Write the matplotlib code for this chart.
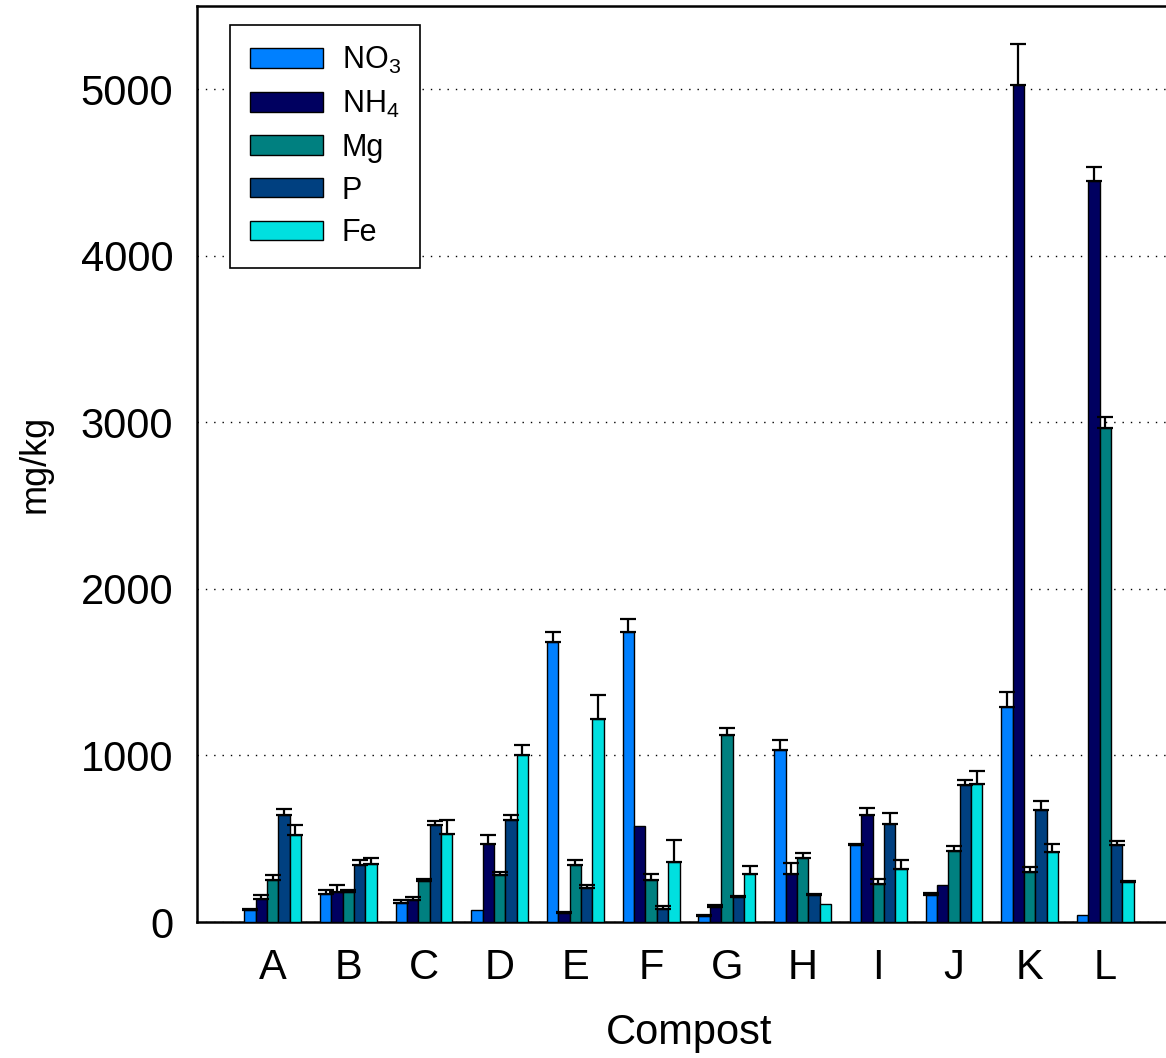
import numpy as np
import matplotlib
matplotlib.use('Agg')
import matplotlib.pyplot as plt

plt.rcParams['font.family'] = ['Liberation Sans', 'DejaVu Sans']
plt.rcParams['mathtext.default'] = 'regular'

composts = ['A', 'B', 'C', 'D', 'E', 'F', 'G', 'H', 'I', 'J', 'K', 'L']

# mean concentrations (mg/kg) and upper error
no3 = [70, 170, 115, 75, 1680, 1740, 35, 1030, 465, 160, 1290, 45]
no3_err = [10, 25, 15, 0, 60, 80, 8, 60, 5, 15, 90, 0]
nh4 = [140, 180, 135, 470, 55, 575, 90, 290, 640, 225, 5025, 4450]
nh4_err = [25, 40, 15, 50, 8, 0, 12, 65, 45, 0, 245, 85]
mg = [250, 180, 245, 285, 340, 250, 1120, 385, 230, 425, 300, 2965]
mg_err = [30, 15, 15, 18, 32, 38, 42, 32, 30, 32, 32, 65]
p = [645, 345, 585, 610, 205, 80, 150, 160, 590, 820, 675, 460]
p_err = [35, 30, 22, 30, 15, 15, 8, 6, 62, 35, 50, 24]
fe = [520, 350, 530, 1000, 1220, 360, 290, 110, 320, 830, 420, 240]
fe_err = [60, 35, 80, 65, 145, 130, 48, 0, 52, 75, 50, 5]

series = [
    ('NO$_3$', no3, no3_err, '#0080ff'),
    ('NH$_4$', nh4, nh4_err, '#000060'),
    ('Mg', mg, mg_err, '#008080'),
    ('P', p, p_err, '#004080'),
    ('Fe', fe, fe_err, '#00e0e0'),
]

fig = plt.figure(figsize=(11.66, 10.58), dpi=100)
ax = fig.add_axes([197/1166, 1 - 922/1058, (1181 - 197)/1166, (922 - 6)/1058])

x = np.arange(len(composts))
w = 0.15
for i, (name, vals, err, col) in enumerate(series):
    pos = x + (i - 2) * w
    ax.bar(pos, vals, w, color=col, edgecolor='black', linewidth=1, label=name, zorder=3)
    err = np.array(err)
    m = err > 0
    ax.errorbar(pos[m], np.array(vals)[m], yerr=[np.zeros(m.sum()), err[m]],
                fmt='none', ecolor='black', elinewidth=1.6, capsize=6, capthick=1.6, zorder=4)

ax.set_xlim(-1, 12)
ax.set_ylim(0, 5500)
ax.set_yticks([0, 1000, 2000, 3000, 4000, 5000])
ax.set_xticks(x)
ax.set_xticklabels(composts)
ax.tick_params(axis='both', length=0, labelsize=30)
ax.tick_params(axis='y', pad=17)
ax.tick_params(axis='x', pad=19)
ax.yaxis.grid(True, linestyle=(0, (1, 5)), color='black', linewidth=1)
for s in ax.spines.values():
    s.set_linewidth(1.8)

ax.set_xlabel('Compost', fontsize=30, labelpad=18)
ax.set_ylabel('mg/kg', fontsize=26, labelpad=20)

leg = ax.legend(loc='upper left', bbox_to_anchor=(230/1166, 1 - 25/1058),
                bbox_transform=fig.transFigure, borderaxespad=0, fontsize=22,
                handlelength=2.4, handleheight=0.6, handletextpad=0.6,
                labelspacing=0.42, fancybox=False, framealpha=1,
                borderpad=0.65)
leg.get_frame().set_edgecolor('black')
leg.get_frame().set_linewidth(1.2)

fig.savefig('out.png', dpi=100)
